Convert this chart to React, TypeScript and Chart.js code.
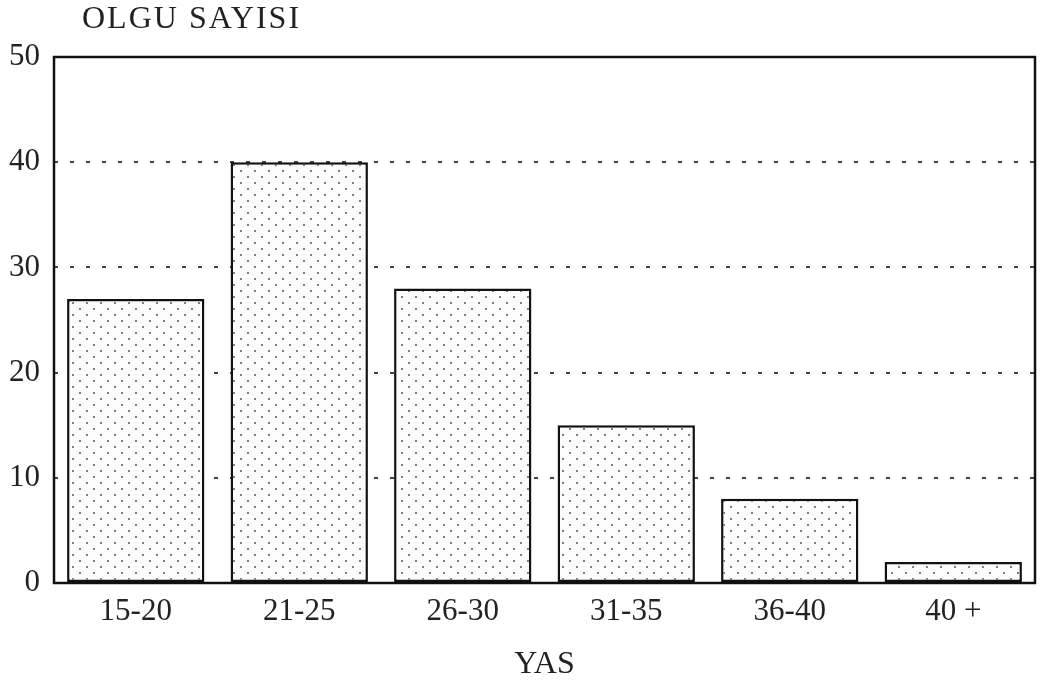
import React, { useEffect, useRef } from 'react';
import { Chart, registerables } from 'chart.js';

Chart.register(...registerables);

const categories = ['15-20', '21-25', '26-30', '31-35', '36-40', '40 +'];
const caseCounts = [27, 40, 28, 15, 8, 2];
const yTickValues = [0, 10, 20, 30, 40, 50];
const yAxisTitle = 'OLGU SAYISI';
const xAxisTitle = 'YAS';

const FONT = '"Liberation Serif", "DejaVu Serif", serif';
const TEXT = '#222';

function makeDotPattern(): CanvasPattern | string {
  const c = document.createElement('canvas');
  c.width = 14;
  c.height = 12;
  const ctx = c.getContext('2d');
  if (!ctx) return '#eee';
  ctx.fillStyle = '#fcfcfc';
  ctx.fillRect(0, 0, 14, 12);
  ctx.fillStyle = '#7f7f7f';
  ctx.fillRect(2, 2, 2, 2);
  ctx.fillRect(9, 8, 2, 2);
  return ctx.createPattern(c, 'repeat') || '#eee';
}

const framePlugin = {
  id: 'frame',
  afterDatasetsDraw(chart: any) {
    const { ctx, chartArea } = chart;
    const { left, top, right, bottom } = chartArea;
    ctx.save();
    ctx.strokeStyle = '#111';
    ctx.lineWidth = 2.5;
    ctx.strokeRect(left, top, right - left, bottom - top);
    ctx.restore();
  },
};

const yTitlePlugin = {
  id: 'yTitleTop',
  afterDraw(chart: any) {
    const { ctx, chartArea } = chart;
    ctx.save();
    ctx.font = `32px ${FONT}`;
    (ctx as any).letterSpacing = '2px';
    ctx.fillStyle = TEXT;
    ctx.textAlign = 'left';
    ctx.textBaseline = 'middle';
    ctx.fillText(yAxisTitle, chartArea.left + 28, chartArea.top - 37);
    ctx.restore();
  },
};

export default function App() {
  const canvasRef = useRef<HTMLCanvasElement | null>(null);

  useEffect(() => {
    document.body.style.margin = '0';
    const canvas = canvasRef.current;
    if (!canvas) return;
    const pattern = makeDotPattern();
    const chart = new Chart(canvas, {
      type: 'bar',
      data: {
        labels: categories,
        datasets: [
          {
            data: caseCounts,
            backgroundColor: pattern as any,
            borderColor: '#111',
            borderWidth: 2.5,
            borderSkipped: false,
            barPercentage: 0.84,
            categoryPercentage: 1.0,
          },
        ],
      },
      options: {
        animation: false,
        responsive: true,
        maintainAspectRatio: false,
        layout: { padding: { top: 57, right: 9, left: 0, bottom: 0 } },
        plugins: {
          legend: { display: false },
          tooltip: { enabled: false },
          title: { display: false },
        },
        scales: {
          x: {
            grid: { display: false, drawTicks: false },
            border: { display: false },
            ticks: {
              font: { family: FONT, size: 31 },
              color: TEXT,
              padding: 10,
            },
            title: {
              display: true,
              text: xAxisTitle,
              font: { family: FONT, size: 32 },
              color: TEXT,
              padding: { top: 0, bottom: 5 },
            },
            afterFit(scale: any) {
              scale.height = 106;
            },
          },
          y: {
            min: 0,
            max: 50,
            afterBuildTicks(scale: any) {
              scale.ticks = yTickValues.map((v) => ({ value: v }));
            },
            ticks: {
              font: { family: FONT, size: 31 },
              color: TEXT,
              padding: 14,
            },
            grid: {
              drawTicks: false,
              lineWidth: 2,
              color: (ctx: any) =>
                ctx.tick && (ctx.tick.value === 0 || ctx.tick.value === 50)
                  ? 'rgba(0,0,0,0)'
                  : '#444',
            },
            border: { display: false, dash: [4, 12] },
            afterFit(scale: any) {
              scale.width = 54;
            },
          },
        },
      },
      plugins: [framePlugin, yTitlePlugin],
    });
    return () => chart.destroy();
  }, []);

  return (
    <div style={{ width: 1044, height: 689, position: 'relative' }}>
      <canvas ref={canvasRef} />
    </div>
  );
}
